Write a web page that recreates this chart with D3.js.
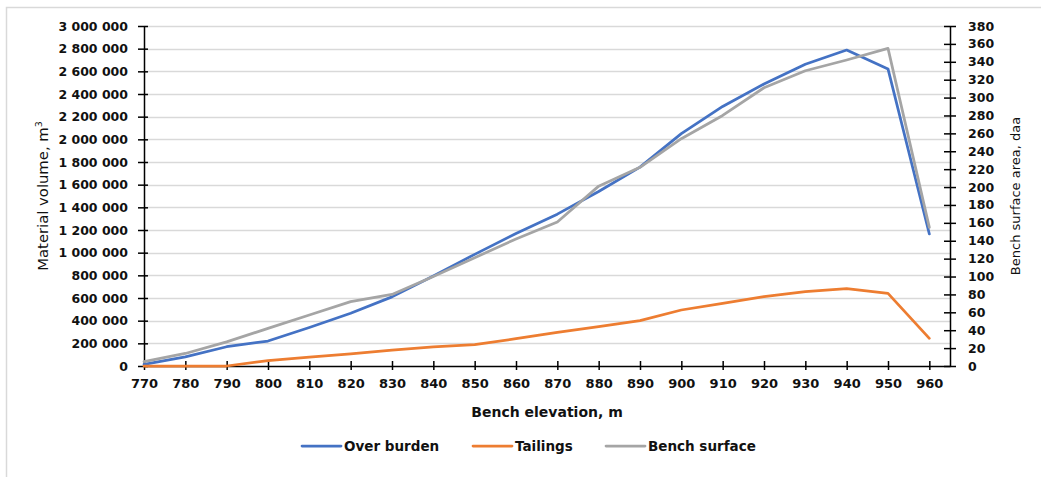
<!DOCTYPE html>
<html>
<head>
<meta charset="utf-8">
<script src="https://cdn.jsdelivr.net/npm/d3@7"></script>
<style>
  html, body { margin: 0; padding: 0; background: #fff; }
  svg { display: block; font-family: "DejaVu Sans", Verdana, sans-serif; }
</style>
</head>
<body>
<svg id="chart" width="1041" height="477"></svg>
<script>
// Bench elevations (m)
const elevations = [770, 780, 790, 800, 810, 820, 830, 840, 850, 860, 870, 880, 890, 900, 910, 920, 930, 940, 950, 960];

// Overburden volume per bench (m³)
const overBurden = [15000, 80000, 170000, 220000, 340000, 465000, 610000, 795000, 985000, 1170000, 1340000, 1540000, 1755000, 2050000, 2290000, 2488000, 2662000, 2788000, 2621000, 1165000];

// Tailings volume per bench (m³)
const tailings = [0, 0, 0, 47000, 79000, 108000, 141000, 168000, 188000, 241000, 297000, 347000, 400000, 494000, 553000, 612000, 656000, 682000, 641000, 244000];

// Bench surface area (daa), secondary axis
const benchSurface = [5, 14, 27, 42, 57, 72, 80, 100, 121, 142, 161, 201, 222, 254, 280, 311, 330, 342, 355, 155];

// Axis ticks
const leftTicks = d3.range(0, 3000001, 200000);
const rightTicks = d3.range(0, 381, 20);

const seriesInfo = [
  { name: "Over burden", values: overBurden, color: "#4472C4", axis: "left" },
  { name: "Tailings", values: tailings, color: "#ED7D31", axis: "left" },
  { name: "Bench surface", values: benchSurface, color: "#A5A5A5", axis: "right" }
];

const svg = d3.select("#chart");
const plot = { left: 144, right: 950, top: 26, bottom: 366 };

const x = d3.scaleLinear().domain([770, 965]).range([plot.left, plot.right]);
const yL = d3.scaleLinear().domain([0, 3000000]).range([plot.bottom, plot.top]);
const yR = d3.scaleLinear().domain([0, 380]).range([plot.bottom, plot.top]);

const fmt = v => d3.format(",")(v).replace(/,/g, " ");

// Chart frame (open on the right/bottom)
svg.append("path")
  .attr("d", `M6.5,477 V7.5 H1041`)
  .attr("fill", "none")
  .attr("stroke", "#d9d9d9")
  .attr("stroke-width", 1.5);

// Horizontal gridlines
svg.append("g")
  .selectAll("line")
  .data(leftTicks.filter(d => d > 0))
  .join("line")
  .attr("x1", plot.left).attr("x2", plot.right)
  .attr("y1", d => Math.round(yL(d)) + 0.5)
  .attr("y2", d => Math.round(yL(d)) + 0.5)
  .attr("stroke", "#d9d9d9")
  .attr("stroke-width", 1.5);

// Left axis
const leftAxis = svg.append("g")
  .attr("transform", `translate(${plot.left},0)`)
  .call(d3.axisLeft(yL).tickValues(leftTicks).tickFormat(fmt).tickSizeInner(5).tickSizeOuter(0).tickPadding(11));
leftAxis.select(".domain").attr("stroke", "#000").attr("stroke-width", 1.5);
leftAxis.selectAll(".tick line").attr("x2", 4).attr("x1", -6).attr("stroke", "#000").attr("stroke-width", 1.5);
leftAxis.selectAll(".tick text")
  .attr("font-size", 12.5).attr("font-weight", "bold").attr("fill", "#111")
  .attr("font-family", "DejaVu Sans, sans-serif");

// Right axis
const rightAxis = svg.append("g")
  .attr("transform", `translate(${plot.right},0)`)
  .call(d3.axisRight(yR).tickValues(rightTicks).tickSizeInner(6).tickSizeOuter(0).tickPadding(12));
rightAxis.select(".domain").attr("stroke", "#000").attr("stroke-width", 1.5);
rightAxis.selectAll(".tick line").attr("x1", -6).attr("x2", 6).attr("stroke", "#000").attr("stroke-width", 1.5);
rightAxis.selectAll(".tick text")
  .attr("font-size", 12.5).attr("font-weight", "bold").attr("fill", "#111")
  .attr("font-family", "DejaVu Sans, sans-serif");

// Bottom axis
const bottomAxis = svg.append("g")
  .attr("transform", `translate(0,${plot.bottom})`)
  .call(d3.axisBottom(x).tickValues(elevations).tickFormat(d3.format("d")).tickSizeInner(4).tickSizeOuter(0).tickPadding(9));
bottomAxis.select(".domain").attr("stroke", "#000").attr("stroke-width", 1.5);
bottomAxis.selectAll(".tick line").attr("y1", -5).attr("y2", 4).attr("stroke", "#000").attr("stroke-width", 1.5);
bottomAxis.selectAll(".tick text")
  .attr("font-size", 13).attr("font-weight", "bold").attr("fill", "#111")
  .attr("font-family", "DejaVu Sans, sans-serif");

// Series lines
const lineGen = (scale) => d3.line()
  .x((d, i) => x(elevations[i]))
  .y(d => scale(d));

seriesInfo.forEach(s => {
  svg.append("path")
    .datum(s.values)
    .attr("fill", "none")
    .attr("stroke", s.color)
    .attr("stroke-width", 2.75)
    .attr("stroke-linejoin", "round")
    .attr("stroke-linecap", "round")
    .attr("d", lineGen(s.axis === "left" ? yL : yR)(s.values));
});

// Axis titles
svg.append("text")
  .attr("x", (plot.left + plot.right) / 2)
  .attr("y", 417)
  .attr("text-anchor", "middle")
  .attr("font-size", 14)
  .attr("font-weight", "bold")
  .attr("fill", "#111")
  .text("Bench elevation, m");

const lt = svg.append("text")
  .attr("transform", `translate(48,196) rotate(-90)`)
  .attr("text-anchor", "middle")
  .attr("font-size", 14.8)
  .attr("fill", "#111");
lt.append("tspan").text("Material volume, m");
lt.append("tspan").attr("font-size", 9.5).attr("dy", -6).text("3");

svg.append("text")
  .attr("transform", `translate(1020,196) rotate(-90)`)
  .attr("text-anchor", "middle")
  .attr("font-size", 13)
  .attr("fill", "#111")
  .text("Bench surface area, daa");

// Legend
const legendX = [302, 473, 606];
const legend = svg.append("g");
seriesInfo.forEach((s, i) => {
  const g = legend.append("g").attr("transform", `translate(${legendX[i]},446)`);
  g.append("line")
    .attr("x1", 0).attr("x2", 39)
    .attr("y1", 0).attr("y2", 0)
    .attr("stroke", s.color)
    .attr("stroke-width", 2.75)
    .attr("stroke-linecap", "round");
  g.append("text")
    .attr("x", 42)
    .attr("y", 5)
    .attr("font-size", 13.5)
    .attr("font-weight", "bold")
    .attr("fill", "#111")
    .text(s.name);
});
</script>
</body>
</html>
